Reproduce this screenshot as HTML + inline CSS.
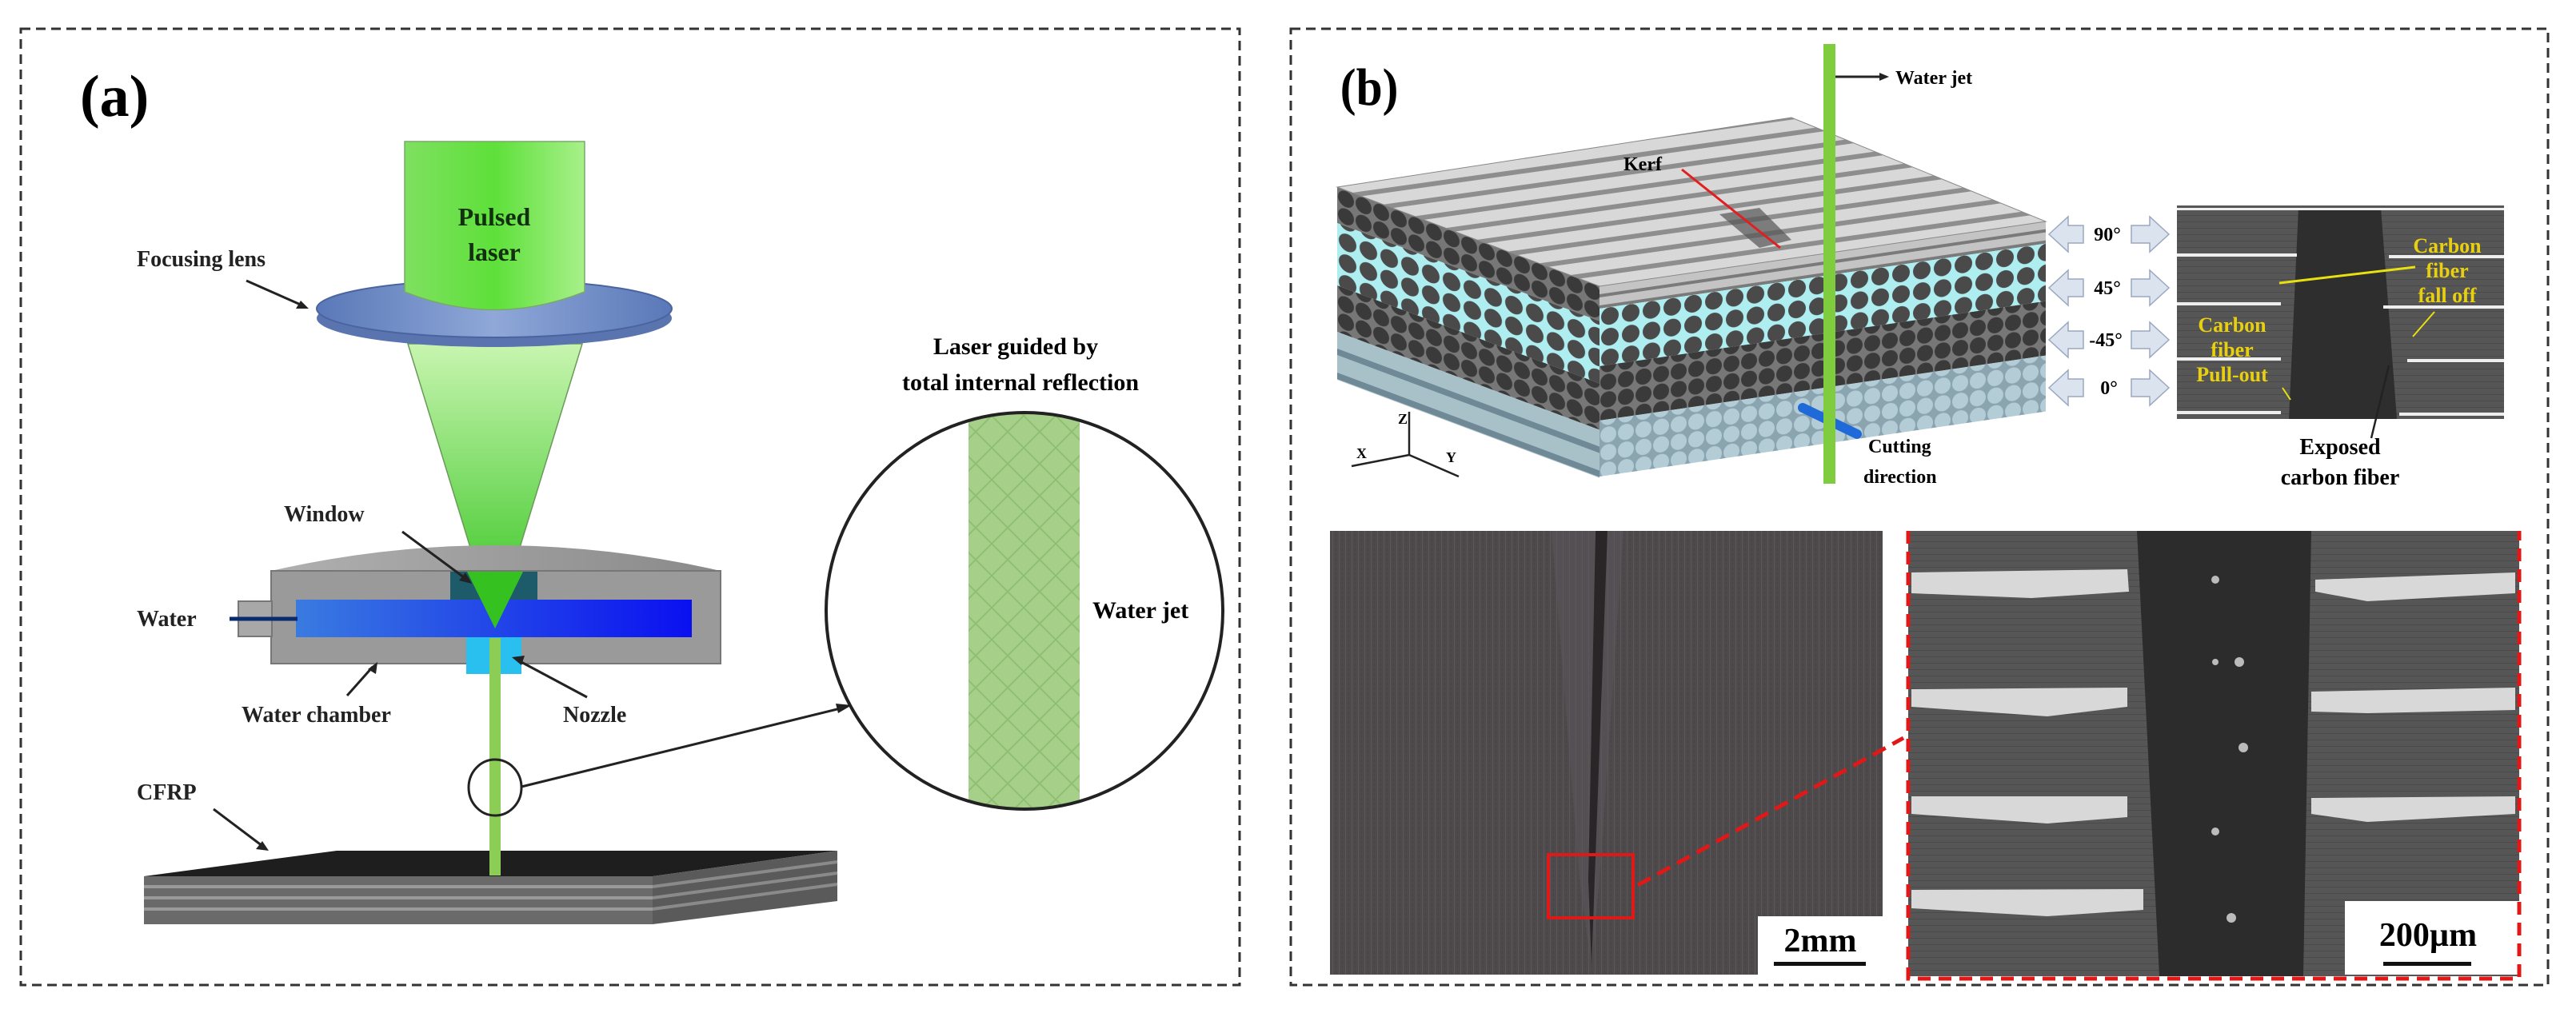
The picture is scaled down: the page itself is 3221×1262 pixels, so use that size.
<!DOCTYPE html>
<html><head><meta charset="utf-8"><style>
html,body{margin:0;padding:0;background:#fff;}
svg{display:block;}
text{font-family:"Liberation Serif",serif;font-weight:bold;}
</style></head><body>
<svg width="3221" height="1262" viewBox="0 0 3221 1262" xmlns="http://www.w3.org/2000/svg">
<defs>
<linearGradient id="gl" x1="0" y1="0" x2="1" y2="0"><stop offset="0" stop-color="#7fe060"/><stop offset="0.5" stop-color="#5ee03a"/><stop offset="1" stop-color="#a8f08a"/></linearGradient>
<linearGradient id="cone" x1="0" y1="0" x2="0" y2="1"><stop offset="0" stop-color="#c8f5b0"/><stop offset="1" stop-color="#2fc21a"/></linearGradient>
<linearGradient id="lens" x1="0" y1="0" x2="1" y2="0"><stop offset="0" stop-color="#5a78b8"/><stop offset="0.5" stop-color="#8fa8d8"/><stop offset="1" stop-color="#5a78b8"/></linearGradient>
<linearGradient id="wat" x1="0" y1="0" x2="1" y2="0"><stop offset="0" stop-color="#3a7be0"/><stop offset="1" stop-color="#0a10f0"/></linearGradient>
<linearGradient id="dome" x1="0" y1="0" x2="1" y2="0"><stop offset="0" stop-color="#b0b0b0"/><stop offset="1" stop-color="#8a8a8a"/></linearGradient>
<pattern id="hatch" width="40" height="40" patternUnits="userSpaceOnUse"><rect width="40" height="40" fill="#a6d08a"/><path d="M0 0L40 40M40 0L0 40" stroke="#8fbf72" stroke-width="2"/></pattern>
<pattern id="dots1" width="26" height="26" patternUnits="userSpaceOnUse"><rect width="26" height="26" fill="#aeeef0"/><circle cx="13" cy="13" r="11" fill="#4a4a4a"/></pattern>
<pattern id="dots2" width="22" height="22" patternUnits="userSpaceOnUse"><rect width="22" height="22" fill="#777"/><circle cx="11" cy="11" r="10" fill="#3a3a3a"/></pattern>
<pattern id="dots3" width="22" height="22" patternUnits="userSpaceOnUse"><rect width="22" height="22" fill="#8aa4b0"/><circle cx="11" cy="11" r="10" fill="#b4ccd6"/></pattern>
<pattern id="prods" width="30" height="30" patternUnits="userSpaceOnUse"><rect width="30" height="30" fill="#a8c0c8"/><rect y="22" width="30" height="8" fill="#6f8a96"/></pattern>
<pattern id="rods" width="20" height="20" patternUnits="userSpaceOnUse" patternTransform="rotate(-8)"><rect width="20" height="20" fill="#d8d8d8"/><rect y="14" width="20" height="6" fill="#8e8e8e"/></pattern>
<pattern id="hrods" width="12" height="14" patternUnits="userSpaceOnUse"><rect width="12" height="14" fill="#c4c4c4"/><rect y="10" width="12" height="4" fill="#7a7a7a"/></pattern>
<pattern id="photo" width="8" height="6" patternUnits="userSpaceOnUse"><rect width="8" height="6" fill="#4e4a4c"/><rect x="2" width="1" height="6" fill="#5c585a"/><rect x="6" y="2" width="1" height="3" fill="#444"/></pattern>
<pattern id="semtex" width="10" height="8" patternUnits="userSpaceOnUse"><rect width="10" height="8" fill="#565656"/><rect y="5" width="10" height="1" fill="#4a4a4a"/></pattern>
</defs>

<rect x="26" y="36" width="1524" height="1196" fill="none" stroke="#333" stroke-width="3" stroke-dasharray="12 7"/>
<rect x="1614" y="36" width="1572" height="1196" fill="none" stroke="#333" stroke-width="3" stroke-dasharray="12 7"/>

<!-- ===== Panel (a) ===== -->
<text x="100" y="145" font-size="74">(a)</text>
<polygon points="510,430 728,430 619,786" fill="url(#cone)" stroke="#6a9a5a" stroke-width="1.5"/>
<ellipse cx="618" cy="398" rx="222" ry="36" fill="#5a74b0"/>
<ellipse cx="618" cy="386" rx="222" ry="36" fill="url(#lens)" stroke="#4a64a0" stroke-width="2"/>
<path d="M506,177 L731,177 L731,365 Q618,410 506,365 Z" fill="url(#gl)" stroke="#7aa86a" stroke-width="1.5"/>
<text x="618" y="282" font-size="32" text-anchor="middle" fill="#113010">Pulsed</text>
<text x="618" y="326" font-size="32" text-anchor="middle" fill="#113010">laser</text>
<path d="M339,714 Q620,650 901,714 Z" fill="url(#dome)"/>
<rect x="339" y="714" width="562" height="116" fill="#9a9a9a" stroke="#777" stroke-width="2"/>
<rect x="298" y="752" width="42" height="44" fill="#a8a8a8" stroke="#777" stroke-width="2"/>
<rect x="370" y="750" width="495" height="47" fill="url(#wat)"/>
<rect x="563" y="715" width="109" height="35" fill="#1d5a6a"/>
<rect x="583" y="797" width="69" height="46" fill="#29c0f0"/>
<polygon points="584,715 654,715 619,786" fill="#35c220"/>
<rect x="612" y="798" width="14" height="295" fill="#8ccd55"/>
<polygon points="180,1096 421,1064 1047,1064 816,1096" fill="#1e1e1e"/>
<rect x="180" y="1096" width="636" height="60" fill="#6a6a6a"/>
<g stroke="#9a9a9a" stroke-width="4"><line x1="180" y1="1109" x2="816" y2="1109"/><line x1="180" y1="1123" x2="816" y2="1123"/><line x1="180" y1="1137" x2="816" y2="1137"/></g>
<polygon points="816,1096 1047,1064 1047,1127 816,1156" fill="#5a5a5a"/>
<g stroke="#8a8a8a" stroke-width="4"><line x1="816" y1="1109" x2="1047" y2="1078"/><line x1="816" y1="1123" x2="1047" y2="1092"/><line x1="816" y1="1137" x2="1047" y2="1106"/></g>
<rect x="612" y="1060" width="14" height="35" fill="#8ccd55"/>
<ellipse cx="619" cy="985" rx="33" ry="35" fill="none" stroke="#222" stroke-width="3"/>
<line x1="652" y1="984" x2="1055" y2="885" stroke="#222" stroke-width="3"/>
<polygon points="1065,882 1045,880 1048,892" fill="#222"/>
<clipPath id="bc"><ellipse cx="1281" cy="764" rx="248" ry="248"/></clipPath>
<rect x="1211" y="500" width="139" height="540" fill="url(#hatch)" clip-path="url(#bc)"/>
<ellipse cx="1281" cy="764" rx="248" ry="248" fill="none" stroke="#222" stroke-width="4"/>
<text x="1270" y="443" font-size="30" text-anchor="middle">Laser guided by</text>
<text x="1276" y="488" font-size="30" text-anchor="middle">total internal reflection</text>
<text x="1366" y="773" font-size="30">Water jet</text>
<g font-size="28" fill="#222">
<text x="171" y="333">Focusing lens</text>
<text x="355" y="652">Window</text>
<text x="171" y="783">Water</text>
<text x="302" y="903">Water chamber</text>
<text x="704" y="903">Nozzle</text>
<text x="171" y="1000">CFRP</text>
</g>
<g stroke="#222" stroke-width="3">
<line x1="308" y1="351" x2="378" y2="382"/><line x1="503" y1="665" x2="584" y2="725"/>
<line x1="287" y1="774" x2="372" y2="774" stroke="#0a2a70" stroke-width="5"/>
<line x1="434" y1="870" x2="466" y2="834"/><line x1="734" y1="872" x2="648" y2="826"/>
<line x1="267" y1="1012" x2="328" y2="1058"/>
</g>
<g fill="#222"><polygon points="386,386 370,386 376,376"/><polygon points="590,730 574,726 582,716"/><polygon points="472,828 470,843 460,837"/><polygon points="640,822 656,820 652,832"/><polygon points="336,1064 320,1062 328,1052"/></g>

<!-- ===== Panel (b) ===== -->
<text x="1862" y="131" font-size="66" transform="scale(0.9,1)">(b)</text>
<!-- left face -->
<g transform="translate(1672,234) skewY(20.5)">
<rect x="0" y="0" width="328" height="45" fill="url(#dots2)"/>
<rect x="0" y="45" width="328" height="78" fill="url(#dots1)"/>
<rect x="0" y="123" width="328" height="58" fill="url(#dots2)"/>
<rect x="0" y="181" width="328" height="60" fill="url(#prods)"/>
</g>
<!-- right face -->
<g transform="translate(2000,358) skewY(-8.3)">
<rect x="0" y="0" width="558" height="28" fill="url(#hrods)"/>
<rect x="0" y="28" width="558" height="72" fill="url(#dots1)"/>
<rect x="0" y="100" width="558" height="68" fill="url(#dots2)"/>
<rect x="0" y="168" width="558" height="70" fill="url(#dots3)"/>
</g>
<polygon points="1672,234 2240,147 2558,277 2000,358" fill="url(#rods)" stroke="#888" stroke-width="1"/>
<path d="M2150,268 L2200,260 L2240,300 L2200,310 Z" fill="#555" opacity="0.7"/>
<line x1="2103" y1="212" x2="2226" y2="310" stroke="#e02020" stroke-width="3"/>
<text x="2030" y="213" font-size="24">Kerf</text>
<line x1="2254" y1="510" x2="2322" y2="543" stroke="#1f6ad8" stroke-width="12" stroke-linecap="round"/>
<rect x="2280" y="55" width="15" height="550" fill="#7fcc3f"/>
<line x1="2295" y1="96" x2="2355" y2="96" stroke="#222" stroke-width="3"/>
<polygon points="2362,96 2350,91 2350,101" fill="#222"/>
<text x="2370" y="105" font-size="24">Water jet</text>
<text x="2336" y="566" font-size="24">Cutting</text>
<text x="2330" y="604" font-size="24">direction</text>
<g stroke="#222" stroke-width="2.5" fill="none"><line x1="1762" y1="569" x2="1762" y2="515"/><line x1="1762" y1="569" x2="1690" y2="583"/><line x1="1762" y1="569" x2="1824" y2="596"/></g>
<text x="1748" y="530" font-size="18" font-weight="normal">Z</text>
<text x="1696" y="573" font-size="18" font-weight="normal">X</text>
<text x="1808" y="578" font-size="18" font-weight="normal">Y</text>
<!-- angle arrows -->
<g fill="#dbe3ef" stroke="#9aa8c0" stroke-width="1.5">
<g id="arr"><polygon points="2562,293 2586,271 2586,282 2605,282 2605,304 2586,304 2586,315"/><polygon points="2712,293 2688,271 2688,282 2665,282 2665,304 2688,304 2688,315"/></g>
<use href="#arr" y="67"/><use href="#arr" y="132"/><use href="#arr" y="192"/>
</g>
<g font-size="24" text-anchor="middle"><text x="2635" y="301">90°</text><text x="2635" y="368">45°</text><text x="2633" y="433">-45°</text><text x="2637" y="493">0°</text></g>
<!-- SEM small -->
<rect x="2722" y="257" width="409" height="267" fill="url(#semtex)"/>
<polygon points="2874,260 2977,260 2997,524 2862,524" fill="#2e2e2e"/>
<g fill="#eee"><rect x="2722" y="260" width="409" height="3"/><rect x="2722" y="317" width="150" height="4"/><rect x="2987" y="319" width="144" height="4"/><rect x="2722" y="378" width="130" height="4"/><rect x="2980" y="382" width="151" height="4"/><rect x="2722" y="447" width="130" height="4"/><rect x="3010" y="449" width="121" height="4"/><rect x="2722" y="514" width="130" height="4"/><rect x="3000" y="516" width="131" height="4"/></g>
<line x1="2850" y1="354" x2="3020" y2="334" stroke="#e8e010" stroke-width="3"/>
<line x1="3017" y1="421" x2="3044" y2="390" stroke="#e8e010" stroke-width="2"/>
<line x1="2854" y1="485" x2="2864" y2="500" stroke="#e8e010" stroke-width="2"/>
<g font-size="26" fill="#e8d010" text-anchor="middle"><text x="3060" y="316">Carbon</text><text x="3060" y="347">fiber</text><text x="3060" y="378">fall off</text><text x="2791" y="415">Carbon</text><text x="2791" y="446">fiber</text><text x="2791" y="477">Pull-out</text></g>
<line x1="2987" y1="457" x2="2965" y2="548" stroke="#222" stroke-width="2.5"/>
<g font-size="28" text-anchor="middle"><text x="2926" y="568">Exposed</text><text x="2926" y="606">carbon fiber</text></g>

<!-- photo left -->
<rect x="1663" y="664" width="691" height="555" fill="url(#photo)"/>
<polygon points="1940,664 2030,664 2000,1100 1990,1209 1975,1100" fill="#5a5558" opacity="0.6"/>
<polygon points="1995,664 2010,664 1994,1100 1990,1209 1986,1100" fill="#2a2628"/>
<rect x="2198" y="1146" width="156" height="73" fill="#fff"/>
<text x="2276" y="1190" font-size="42" text-anchor="middle">2mm</text>
<rect x="2218" y="1203" width="115" height="5" fill="#111"/>
<rect x="1936" y="1069" width="106" height="79" fill="none" stroke="#e01818" stroke-width="4"/>
<line x1="2048" y1="1107" x2="2380" y2="923" stroke="#e01818" stroke-width="5" stroke-dasharray="18 10"/>
<!-- SEM right -->
<rect x="2386" y="664" width="764" height="557" fill="url(#semtex)"/>
<polygon points="2672,664 2890,664 2880,1221 2700,1221" fill="#2c2c2c"/>
<g fill="#d8d8d8">
<path d="M2390,716 L2660,712 L2662,740 L2540,748 L2390,742 Z"/><path d="M2895,725 L3145,716 L3145,742 L2960,752 L2895,740 Z"/>
<path d="M2390,862 L2660,860 L2660,884 L2560,896 L2390,884 Z"/><path d="M2890,865 L3145,860 L3145,888 L2960,892 L2890,890 Z"/>
<path d="M2390,996 L2660,996 L2660,1022 L2560,1030 L2390,1018 Z"/><path d="M2890,998 L3145,996 L3145,1018 L2960,1028 L2890,1018 Z"/>
<path d="M2390,1113 L2680,1112 L2680,1138 L2560,1146 L2390,1136 Z"/>
</g>
<g fill="#bbb"><circle cx="2770" cy="725" r="5"/><circle cx="2800" cy="828" r="6"/><circle cx="2770" cy="828" r="4"/><circle cx="2805" cy="935" r="6"/><circle cx="2770" cy="1040" r="5"/><circle cx="2790" cy="1148" r="6"/></g>
<rect x="2932" y="1127" width="218" height="92" fill="#fff"/>
<text x="3036" y="1183" font-size="42" text-anchor="middle">200µm</text>
<rect x="2980" y="1203" width="110" height="5" fill="#111"/>
<path d="M2386,664 L2386,1224 L3150,1224 L3150,664" fill="none" stroke="#e01818" stroke-width="5" stroke-dasharray="16 10"/>
</svg>
</body></html>
